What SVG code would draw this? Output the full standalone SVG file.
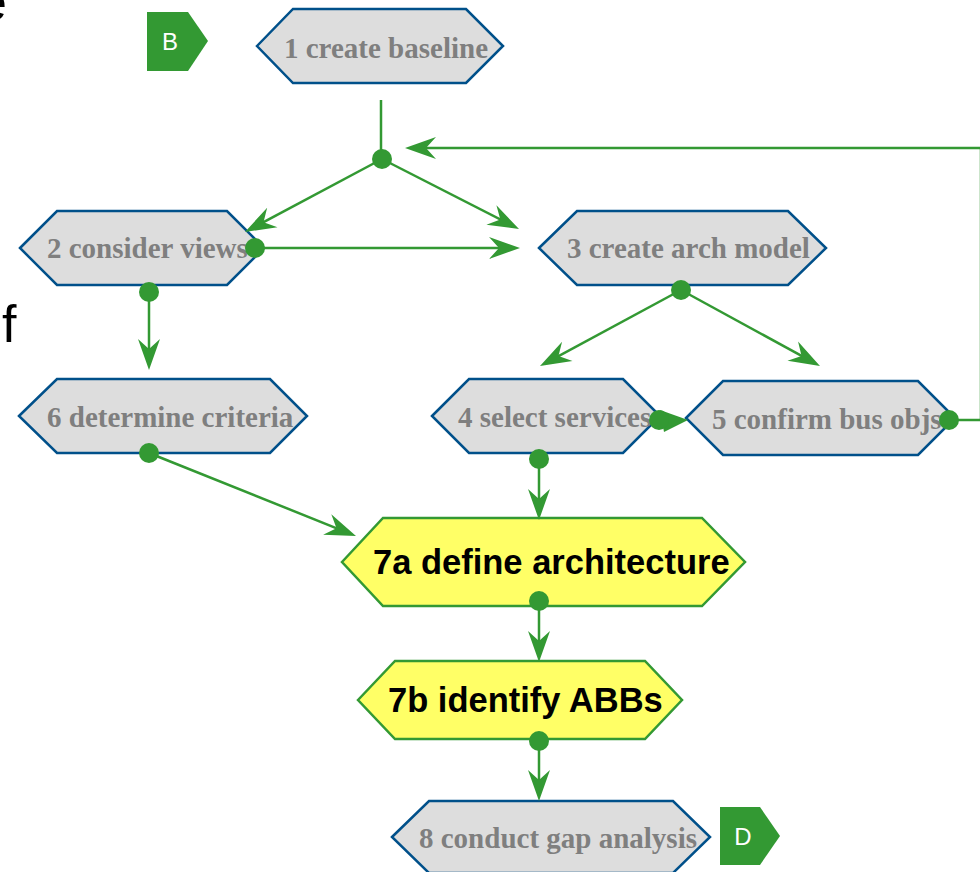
<svg xmlns="http://www.w3.org/2000/svg" width="980" height="872" viewBox="0 0 980 872">
<defs>
<style>
.n polygon{fill:#dddddd;stroke:#00508a;stroke-width:2.5;stroke-linejoin:miter}
.n text{font-family:"Liberation Serif",serif;font-weight:bold;font-size:29px;fill:#7f7f7f}
.y polygon{fill:#ffff66;stroke:#339933;stroke-width:2.5}
.y text{font-family:"Liberation Sans",Arial,sans-serif;font-weight:bold;font-size:34.5px;fill:#000}
.tag polygon{fill:#339933}
.tag text{font-family:"Liberation Sans",Arial,sans-serif;font-size:24px;fill:#fff;text-anchor:middle}
.c line{stroke:#339933;stroke-width:2.5;fill:none}
.c circle,.c polygon{fill:#339933}
.edge{font-family:"Liberation Sans",Arial,sans-serif;font-size:52px;fill:#000}
</style>
<marker id="ah" markerUnits="userSpaceOnUse" markerWidth="40" markerHeight="30" viewBox="-25 -15 40 30" refX="0" refY="0" orient="auto">
<path d="M10,0 L-21,-11 L-11,0 L-21,11 Z" fill="#339933"/>
</marker>
</defs>
<rect width="980" height="872" fill="#ffffff"/>
<text class="edge" x="-22" y="20">e</text>
<text class="edge" x="2" y="342">f</text>

<g id="tagB" class="tag"><polygon points="147,12 188,12 208,41 188,71 147,71"/><text x="170" y="50">B</text></g>
<g id="tagD" class="tag"><polygon points="720,807 760,807 780,836 760,865 720,865"/><text x="743" y="845">D</text></g>

<g id="n1" class="n"><polygon points="257,46 293,9 466,9 503,46 466,83 293,83"/><text x="284" y="58">1 create baseline</text></g>
<g id="n2" class="n"><polygon points="20,248 57,211 227,211 264,248 227,285 57,285"/><text x="47" y="258">2 consider views</text></g>
<g id="n3" class="n"><polygon points="539,248 577,211 788,211 826,248 788,285 577,285"/><text x="567" y="258">3 create arch model</text></g>
<g id="n6" class="n"><polygon points="19,416 57,379 270,379 307,416 270,453 57,453"/><text x="47" y="427">6 determine criteria</text></g>
<g id="n4" class="n"><polygon points="432,416 469,379 623,379 660,416 623,453 469,453"/><text x="458" y="427">4 select services</text></g>
<g id="n5" class="n"><polygon points="686,418 723,381 918,381 955,418 918,455 723,455"/><text x="712" y="429">5 confirm bus objs</text></g>
<g id="n7a" class="y"><polygon points="342,562 383,518 702,518 745,562 702,606 383,606"/><text x="373" y="574">7a define architecture</text></g>
<g id="n7b" class="y"><polygon points="358,700 395,661 645,661 682,700 645,739 395,739"/><text x="388" y="712">7b identify ABBs</text></g>
<g id="n8" class="n"><polygon points="392,837 429,801 673,801 710,837 673,873 429,873"/><text x="419" y="848">8 conduct gap analysis</text></g>

<g id="connectors" class="c">
<line x1="381" y1="100" x2="381" y2="159"/>
<line x1="382" y1="159" x2="253.8" y2="227.3" marker-end="url(#ah)"/>
<line x1="382" y1="159" x2="510.1" y2="224.5" marker-end="url(#ah)"/>
<line x1="255" y1="248" x2="510" y2="248" marker-end="url(#ah)"/>
<line x1="981" y1="148" x2="415" y2="148" marker-end="url(#ah)"/>
<line x1="981" y1="148" x2="981" y2="420"/>
<line x1="949" y1="420" x2="981" y2="420"/>
<line x1="149" y1="292" x2="149" y2="360" marker-end="url(#ah)"/>
<line x1="681" y1="290" x2="548.8" y2="361.3" marker-end="url(#ah)"/>
<line x1="681" y1="290" x2="811.2" y2="361.2" marker-end="url(#ah)"/>
<line x1="149" y1="453" x2="346.7" y2="532.3" marker-end="url(#ah)"/>
<line x1="539" y1="459" x2="539" y2="510" marker-end="url(#ah)"/>
<line x1="539" y1="601" x2="539" y2="652" marker-end="url(#ah)"/>
<line x1="539" y1="741" x2="539" y2="791" marker-end="url(#ah)"/>
<polygon points="660,410 688,420 664,432"/>
<circle cx="382" cy="159" r="10"/>
<circle cx="255" cy="248" r="10"/>
<circle cx="149" cy="292" r="10"/>
<circle cx="681" cy="290" r="10"/>
<circle cx="149" cy="453" r="10"/>
<circle cx="659" cy="420" r="10"/>
<circle cx="539" cy="459" r="10"/>
<circle cx="949" cy="420" r="10"/>
<circle cx="539" cy="601" r="10"/>
<circle cx="539" cy="741" r="10"/>
</g>
</svg>
